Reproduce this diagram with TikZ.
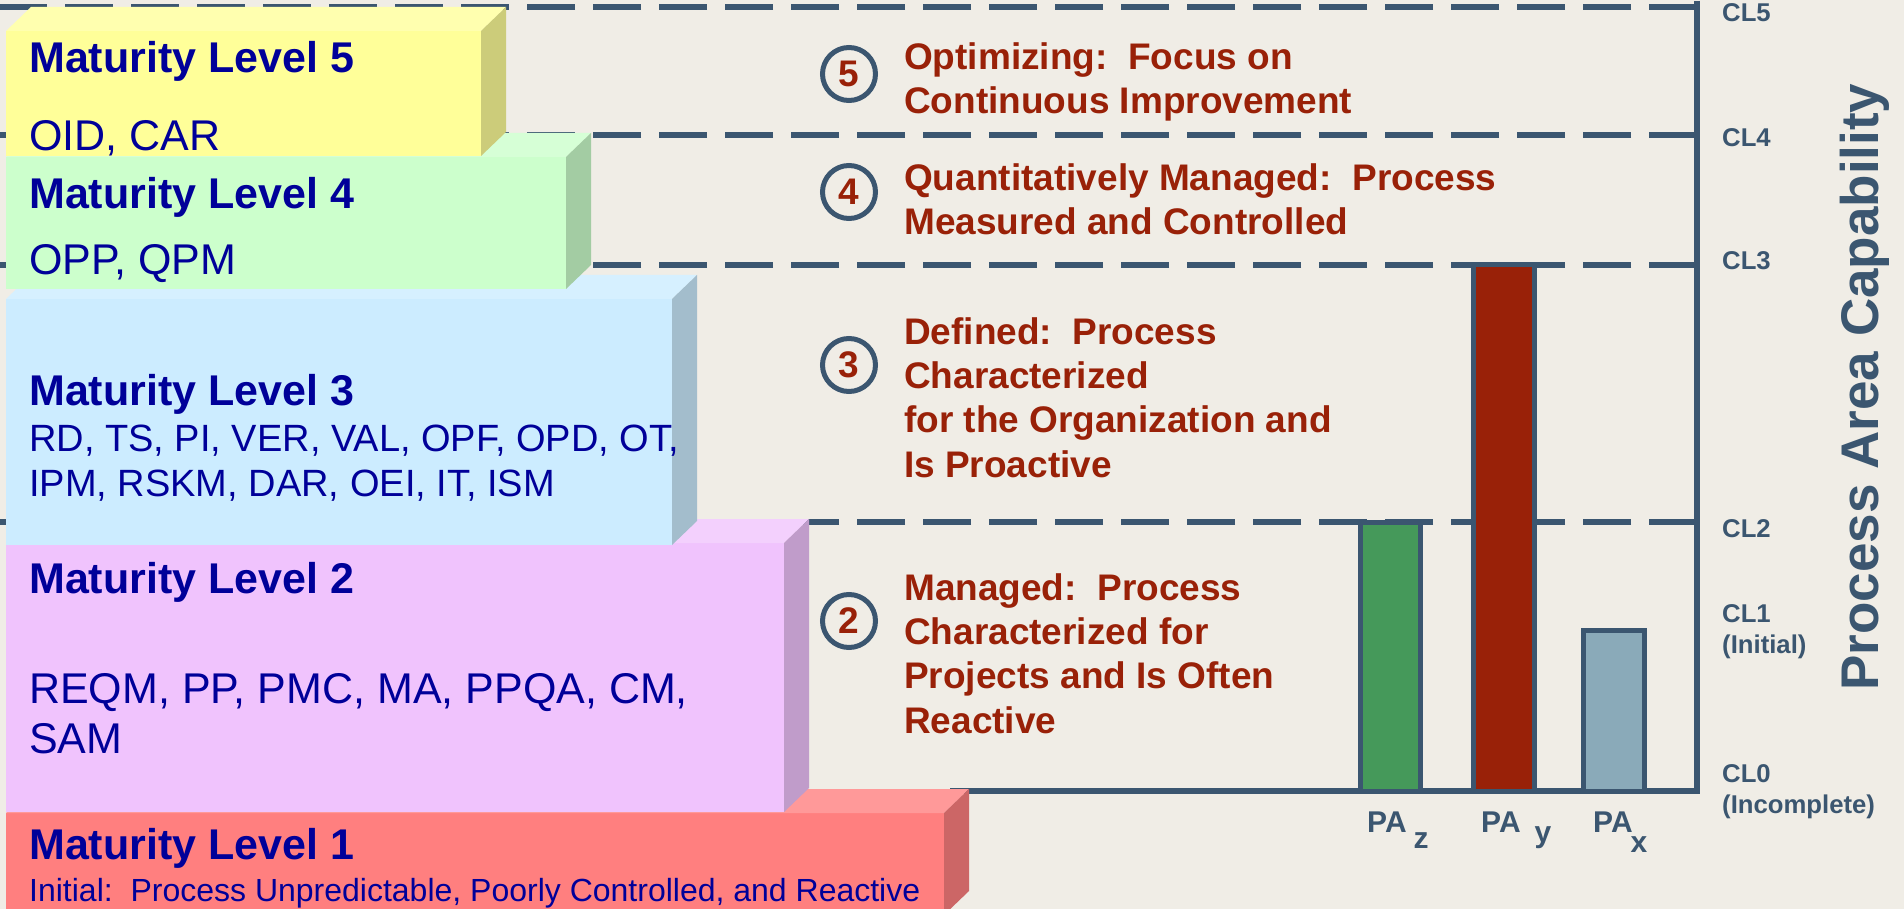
\documentclass[tikz,border=0pt]{standalone}
\usepackage{fontspec}
\setmainfont{Liberation Sans}
\usetikzlibrary{positioning}

\definecolor{bgcol}{RGB}{240,237,230}
\definecolor{navy}{RGB}{0,0,153}
\definecolor{slate}{RGB}{59,86,112}
\definecolor{rust}{RGB}{153,33,8}
\definecolor{ylwF}{RGB}{255,255,153}
\definecolor{ylwT}{RGB}{255,255,175}
\definecolor{ylwS}{RGB}{204,204,122}
\definecolor{grnF}{RGB}{204,255,204}
\definecolor{grnT}{RGB}{214,255,214}
\definecolor{grnS}{RGB}{163,204,163}
\definecolor{bluF}{RGB}{204,236,255}
\definecolor{bluT}{RGB}{214,240,255}
\definecolor{bluS}{RGB}{163,189,204}
\definecolor{pnkF}{RGB}{240,195,253}
\definecolor{pnkT}{RGB}{243,208,253}
\definecolor{pnkS}{RGB}{192,156,202}
\definecolor{redF}{RGB}{255,127,127}
\definecolor{redT}{RGB}{255,153,153}
\definecolor{redS}{RGB}{204,102,102}
\definecolor{barZ}{RGB}{69,153,90}
\definecolor{barY}{RGB}{153,33,8}
\definecolor{barX}{RGB}{138,170,185}

\tikzstyle{mltitle} = [anchor=base west, inner sep=0pt, text=navy, font=\fontsize{43}{50}\selectfont\bfseries]
\tikzstyle{mlbody} = [anchor=base west, inner sep=0pt, text=navy, align=left, font=\fontsize{43}{50}\selectfont]
\tikzstyle{lvlnum} = [circle, draw=slate, line width=5pt, minimum size=53pt, inner sep=0pt, text=rust, font=\fontsize{37}{37}\selectfont\bfseries]
\tikzstyle{lvldesc} = [anchor=base west, inner sep=0pt, text=rust, align=left, font=\fontsize{37}{44.3}\selectfont\bfseries]
\tikzstyle{cllabel} = [anchor=base west, inner sep=0pt, text=slate, align=left, font=\fontsize{25.7}{31}\selectfont\bfseries]
\tikzstyle{palabel} = [anchor=base west, inner sep=0pt, text=slate, font=\fontsize{30}{30}\selectfont\bfseries]
\tikzstyle{cline} = [draw=slate, line width=5.5pt, dash pattern=on 48pt off 18pt]
\tikzstyle{axisline} = [draw=slate, line width=6pt]
\tikzstyle{bar} = [draw=slate, line width=5pt]

% 3D maturity block: x1 y1 x2 y2 front top side
\newcommand{\mlblock}[7]{%
  \fill[#5] (#1,#2) rectangle (#3,#4);
  \fill[#6] (#1,#2) -- ++(25,-24) -- (#3+25,#2-24) -- (#3,#2) -- cycle;
  \fill[#7] (#3,#2) -- ++(25,-24) -- (#3+25,#4-24) -- (#3,#4) -- cycle;
}

\begin{document}
\begin{tikzpicture}[x=1pt,y=-1pt]
\fill[bgcol] (0,0) rectangle (1904,909);
\useasboundingbox (0,0) rectangle (1904,909);

% capability levels on the axis
\coordinate (cl5) at (1697,7);
\coordinate (cl4) at (1697,135);
\coordinate (cl3) at (1697,265);
\coordinate (cl2) at (1697,522);
\coordinate (cl0) at (1697,791);
\coordinate (axtop) at (1697,1);
\coordinate (axbot) at (1697,794);
\coordinate (axleft) at (950,791);
\coordinate (axright) at (1700,791);

\foreach \c in {cl5,cl4,cl3,cl2}
  \draw[cline] (\c) -- ++(-1697,0);
\draw[axisline] (axtop) -- (axbot);
\draw[axisline] (axleft) -- (axright);

% staircase of maturity levels
\mlblock{6}{813}{944}{915}{redF}{redT}{redS}
\mlblock{6}{543}{784}{812}{pnkF}{pnkT}{pnkS}
\mlblock{6}{299}{672}{545}{bluF}{bluT}{bluS}
\mlblock{6}{157}{566}{289}{grnF}{grnT}{grnS}
\mlblock{6}{31}{481}{156}{ylwF}{ylwT}{ylwS}

\node[mltitle] (ml5) at (29,72.7) {Maturity Level 5};
\node[mlbody] (pa5) at (29,150.7) {OID, CAR};
\node[mltitle] (ml4) at (29,209) {Maturity Level 4};
\node[mlbody] (pa4) at (29,275) {OPP, QPM};
\node[mltitle] (ml3) at (29,405) {Maturity Level 3};
\node[mlbody, font=\fontsize{38}{44.3}\selectfont] (pa3) at (29,496)
  {RD, TS, PI, VER, VAL, OPF, OPD, OT,\\IPM, RSKM, DAR, OEI, IT, ISM};
\node[mltitle] (ml2) at (29,593) {Maturity Level 2};
\node[mlbody] (pa2) at (29,753) {REQM, PP, PMC, MA, PPQA, CM,\\SAM};
\node[mltitle] (ml1) at (29,859) {Maturity Level 1};
\node[mlbody, font=\fontsize{32}{34}\selectfont] (pa1) at (29,901.7)
  {Initial:\ \ Process Unpredictable, Poorly Controlled, and Reactive};

% level descriptions
\node[lvlnum] (n5) at (849,74) {5};
\node[lvldesc] (d5) at (904,114) {Optimizing:\ \ Focus on\\Continuous Improvement};
\node[lvlnum] (n4) at (849,192) {4};
\node[lvldesc] (d4) at (904,235) {Quantitatively Managed:\ \ Process\\Measured and Controlled};
\node[lvlnum] (n3) at (849,365) {3};
\node[lvldesc] (d3) at (904,477) {Defined:\ \ Process\\Characterized\\for the Organization and\\Is Proactive};
\node[lvlnum] (n2) at (849,621) {2};
\node[lvldesc] (d2) at (904,733) {Managed:\ \ Process\\Characterized for\\Projects and Is Often\\Reactive};

% process area bars
\draw[bar, fill=barZ] (1360.5,791) rectangle (1420.5,522.5);
\draw[bar, fill=barY] (1473.5,791) rectangle (1534.5,264.5);
\draw[bar, fill=barX] (1583.5,791) rectangle (1644.5,630.5);

\node[palabel] (paz) at (1367,832) {PA\hspace{7pt}\raisebox{-16pt}{z}};
\node[palabel] (pay) at (1481,832) {PA\hspace{14pt}\raisebox{-10pt}{y}};
\node[palabel] (pax) at (1593,832) {PA\hspace{-2pt}\raisebox{-20pt}{x}};

% capability labels
\node[cllabel] (l5) at (1722,21.7) {CL5};
\node[cllabel] (l4) at (1722,146.7) {CL4};
\node[cllabel] (l3) at (1722,270) {CL3};
\node[cllabel] (l2) at (1722,537) {CL2};
\node[cllabel] (l1) at (1722,653) {CL1\\(Initial)};
\node[cllabel] (l0) at (1722,813) {CL0\\(Incomplete)};

\node[rotate=90, anchor=base, inner sep=0pt, text=slate, font=\fontsize{53}{53}\selectfont\bfseries] (pac) at (1878,387) {Process Area Capability};
\end{tikzpicture}
\end{document}
